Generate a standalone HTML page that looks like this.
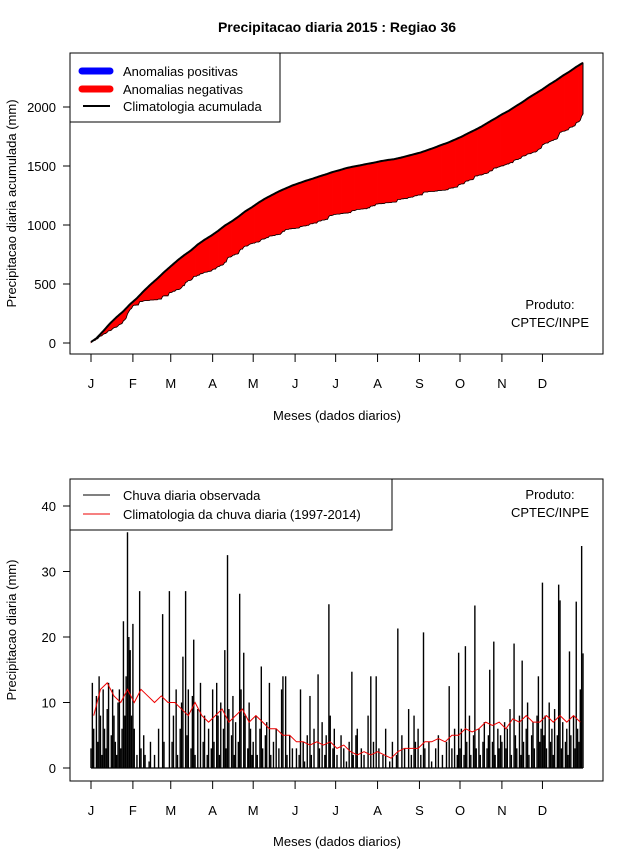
<!DOCTYPE html>
<html><head><meta charset="utf-8"><style>
body{margin:0;background:#fff}
svg{display:block;font-family:"Liberation Sans",sans-serif}
</style></head><body>
<svg id="c" width="640" height="850" xmlns="http://www.w3.org/2000/svg"></svg>
<script>
const monthLabels=["J","F","M","A","M","J","J","A","S","O","N","D"];
const monthStartDays=[1,32,60,91,121,152,182,213,244,274,305,335];
const topTicks=[0,500,1000,1500,2000];
const botTicks=[0,10,20,30,40];
// climatology daily rain, pentad means (73 pentads)
const climPentads=[8,12,13,11,10,12, 10,12,11,10,11,10, 10,9,8,10,8,7, 8,9,7,8,9,7, 8,7,6,6,5,5, 4,4,3.5,4,3.5,4, 3,3.5,2.5,2,2.5,2, 2.5,2,1.5,2.5,3,3, 3,4,4,4.5,4,5, 5,6,5.5,6,7,6.5, 7,6,7.5,7,8,7, 7,8,7,8,7,8,7];
const obsJan=[3,13,6,0,11,4,14,8,2,12,6,3,9,13,0,5,12,8,4,2,10,12,3,6,22.4,8,14,36,20,18,8];
const obsFeb=[22,6,0,2,0,27,3,0,5,2,0,0,1,4,0,0,2,0,0,6,0,0,23.5,4,0,0,0,27];
const obsMar=[0,4,8,0,12,2,0,6,10,17,0,27,5,12,0,3,11,19.6,2,0,9,0,13,0,4,8,0,2,6,0,3];
const obsApr=[12,4,0,13,8,2,10,0,6,18,3,32.5,9,0,5,11,2,7,0,4,26.6,12,0,17.6,8,0,3,10,6,2];
const obsMay=[4,0,8,2,0,6,15.5,3,0,5,7,0,13,2,0,4,0,6,0,3,0,12,14,0,14,2,0,5,0,3,0];
const obsJun=[0,3,0,2,12,0,4,1,0,5,0,11,2,0,6,0,0,14.3,3,0,7,0,2,5,0,25,8,0,3,6];
const obsJul=[0,2,0,0,5,0,3,0,1,0,4,0,14.7,2,0,5,6,0,0,3,0,2,0,0,8,0,14,0,4,0,14];
const obsAug=[0,3,0,0,2,0,6,0,0,1,0,4,0,0,2,21.3,0,0,5,0,3,0,0,9,0,2,0,8,4,0,6];
const obsSep=[0,2,0,20.7,3,0,0,4,0,1,0,0,3,0,5,0,0,2,0,0,4,0,12.5,0,3,0,6,0,2,17.6];
const obsOct=[3,6,0,2,18.6,4,0,8,2,0,5,24.8,3,0,6,2,0,4,7,0,3,5,15,0,4,19.3,2,0,6,3,5];
const obsNov=[4,0,7,3,6,0,9,2,0,19,5,3,0,8,2,16.4,4,0,6,10,2,0,5,7,3,0,8,14,4,6];
const obsDec=[28.3,5,8,3,0,10,4,6,2,9,0,5,28,25.6,3,7,0,4,6,2,17.8,5,0,8,3,25.4,6,4,12,33.9,17.5];

const obs=[].concat(obsJan,obsFeb,obsMar,obsApr,obsMay,obsJun,obsJul,obsAug,obsSep,obsOct,obsNov,obsDec);
const clim=[];climPentads.forEach(v=>{for(let i=0;i<5;i++)clim.push(v);});
const N=365;
const X=d=>91+(d-1)*(583-91)/364;
const YT=v=>343-v*(343-107)/2000;
const YB=v=>768-v*(768-506)/40;
const NS="http://www.w3.org/2000/svg";
const svg=document.getElementById('c');
function mk(t,a,p){const e=document.createElementNS(NS,t);for(const k in a)e.setAttribute(k,a[k]);(p||svg).appendChild(e);return e;}
function txt(s,a,name){const e=mk('text',a);e.textContent=s;return e;}

txt("Precipitacao diaria 2015 : Regiao 36",{x:337,y:32,'text-anchor':'middle','font-size':14,'font-weight':'bold'},'chart-title');

function axes(y0,y1,ticks,Yf,prefix,xlabY,ylab){
  const b=mk('rect',{x:70,y:y0,width:533,height:y1-y0,fill:'none',stroke:'#000','stroke-width':1});
  
  const g=mk('g',{});
  monthStartDays.forEach((d,i)=>{
    mk('line',{x1:X(d),x2:X(d),y1:y1,y2:y1+8,stroke:'#000'},g);
    const t=mk('text',{x:X(d),y:y1+34,'text-anchor':'middle','font-size':13},g);t.textContent=monthLabels[i];
  });
  const gy=mk('g',{});
  ticks.forEach(v=>{
    mk('line',{x1:63,x2:70,y1:Yf(v),y2:Yf(v),stroke:'#000'},gy);
    const t=mk('text',{x:56,y:Yf(v)+5,'text-anchor':'end','font-size':13},gy);t.textContent=v;
  });
  txt("Meses (dados diarios)",{x:337,y:xlabY,'text-anchor':'middle','font-size':13},prefix+'-x-axis-title');
  const yc=(y0+y1)/2;
  txt(ylab,{x:16,y:yc,'text-anchor':'middle','font-size':13,transform:`rotate(-90 16 ${yc})`},prefix+'-y-axis-title');
}
axes(53,354,topTicks,YT,'top',420,'Precipitacao diaria acumulada (mm)');
axes(479,781,botTicks,YB,'bottom',846,'Precipitacao diaria (mm)');

const cc=[],co=[];let a=0,b=0;
for(let i=0;i<N;i++){a+=clim[i];b+=obs[i];cc.push(a);co.push(b);}
const gf=mk('g',{});
for(let i=0;i<N-1;i++){
  const col=(co[i]+co[i+1])>(cc[i]+cc[i+1])?'#0000ff':'#ff0000';
  const p=mk('polygon',{points:`${X(i+1)},${YT(cc[i])} ${X(i+2)},${YT(cc[i+1])} ${X(i+2)},${YT(co[i+1])} ${X(i+1)},${YT(co[i])}`,fill:col,stroke:col,'stroke-width':0.6},gf);
  
  
}
const lo=mk('polyline',{points:co.map((v,i)=>X(i+1)+','+YT(v)).join(' '),fill:'none',stroke:'#000','stroke-width':0.8});

const lc=mk('polyline',{points:cc.map((v,i)=>X(i+1)+','+YT(v)).join(' '),fill:'none',stroke:'#000','stroke-width':2});

mk('line',{x1:X(N),x2:X(N),y1:YT(cc[N-1]),y2:YT(co[N-1]),stroke:'#000'});

const lg=mk('g',{});
mk('rect',{x:70,y:53,width:210,height:69,fill:'#fff',stroke:'#000'},lg);
mk('line',{x1:82,x2:110,y1:71,y2:71,stroke:'#0000ff','stroke-width':7,'stroke-linecap':'round'},lg);
mk('line',{x1:82,x2:110,y1:89,y2:89,stroke:'#ff0000','stroke-width':7,'stroke-linecap':'round'},lg);
mk('line',{x1:83,x2:110,y1:106,y2:106,stroke:'#000','stroke-width':2},lg);
[["Anomalias positivas",76],["Anomalias negativas",94],["Climatologia acumulada",111]].forEach(([s,y])=>{const t=mk('text',{x:123,y:y,'font-size':13},lg);t.textContent=s;});
txt("Produto:",{x:550,y:309,'text-anchor':'middle','font-size':13},'top-credit-label');
txt("CPTEC/INPE",{x:550,y:327,'text-anchor':'middle','font-size':13},'top-credit-name');

const gb=mk('g',{});
obs.forEach((v,i)=>{
  const l=mk('line',{x1:X(i+1),x2:X(i+1),y1:YB(0),y2:YB(v),stroke:'#000','stroke-width':1.4},gb);
  
  
});
mk('line',{x1:X(1),x2:X(N),y1:YB(0),y2:YB(0),stroke:'#000','stroke-width':1.2});
const cl=mk('polyline',{points:climPentads.map((v,i)=>X(i*5+3)+','+YB(v)).join(' '),fill:'none',stroke:'#ee0000','stroke-width':1});


const lb=mk('g',{});
mk('rect',{x:70,y:479,width:322,height:51,fill:'#fff',stroke:'#000'},lb);
mk('line',{x1:83,x2:110,y1:495,y2:495,stroke:'#000'},lb);
mk('line',{x1:83,x2:110,y1:514,y2:514,stroke:'#ee0000'},lb);
[["Chuva diaria observada",500],["Climatologia da chuva diaria (1997-2014)",519]].forEach(([s,y])=>{const t=mk('text',{x:123,y:y,'font-size':13},lb);t.textContent=s;});
txt("Produto:",{x:550,y:499,'text-anchor':'middle','font-size':13},'bottom-credit-label');
txt("CPTEC/INPE",{x:550,y:517,'text-anchor':'middle','font-size':13},'bottom-credit-name');
</script>
</body></html>
